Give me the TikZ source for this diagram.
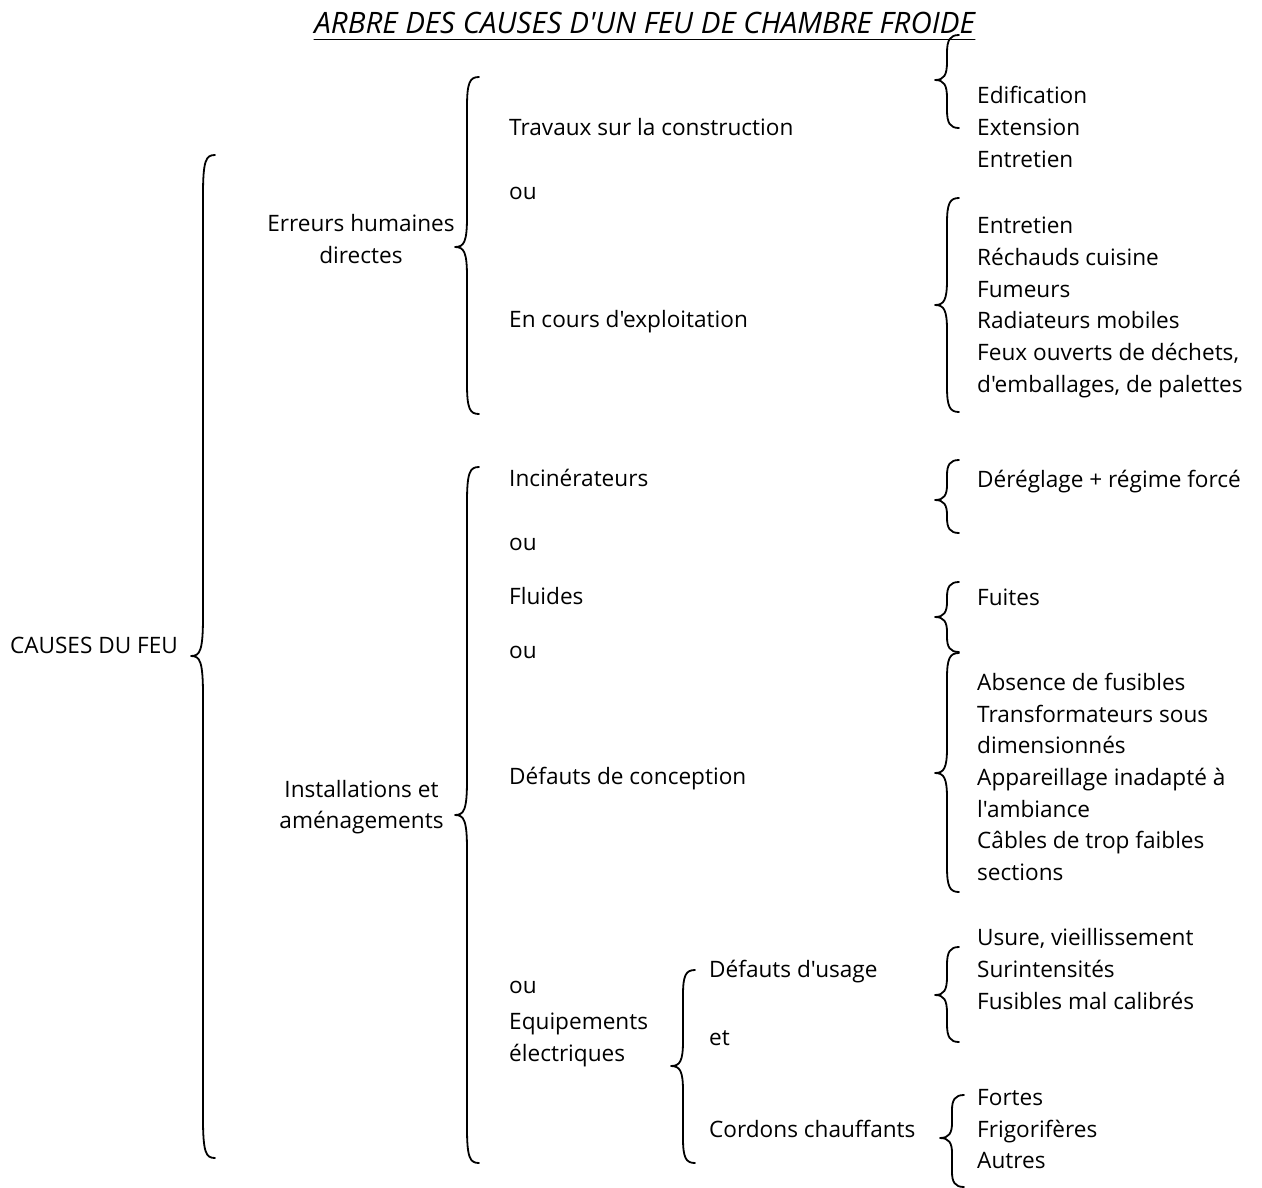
\documentclass[tikz,border=0pt]{standalone}
\usepackage{fontspec}
\newfontfamily\police{Open Sans}
\begin{document}
\begin{tikzpicture}[x=1pt, y=-1pt, font=\police\fontsize{22.6}{27}\selectfont, line join=round, line cap=round,
	txt/.style={anchor=base west, inner sep=0pt},
	ctxt/.style={anchor=base, inner sep=0pt},
	brace/.style={line width=1.8pt}]
	\useasboundingbox (0,0) rectangle (1262,1187);
	% accolade : epine, haut, pointe, bas, rayon
	\def\accolade#1#2#3#4#5{\draw[brace] (#1+12,#2) .. controls (#1+3,#2) and (#1,#2+5) .. (#1,#2+#5) -- (#1,#3-#5) .. controls (#1,#3-5) and (#1-3,#3) .. (#1-12,#3) .. controls (#1-3,#3) and (#1,#3+5) .. (#1,#3+#5) -- (#1,#4-#5) .. controls (#1,#4-5) and (#1+3,#4) .. (#1+12,#4);}
	\node[ctxt, font=\police\itshape\fontsize{29.5}{34}\selectfont] (titre) at (644.5,33) {ARBRE DES CAUSES D'UN FEU DE CHAMBRE FROIDE};
	\draw[line width=1.6pt] ([yshift=-6.5pt]titre.base west) -- ([yshift=-6.5pt]titre.base east);
	\node[anchor=base east, inner sep=0pt] (feu) at (178,653) {CAUSES DU FEU};
	\accolade{203}{155}{656}{1158}{40}
	\node[ctxt] (err1) at (361,231) {Erreurs humaines};
	\node[ctxt] (err2) at (361,263) {directes};
	\node[ctxt] (inst1) at (361.5,797) {Installations et};
	\node[ctxt] (inst2) at (361.5,828) {aménagements};
	\accolade{467}{77}{247}{414}{30}
	\accolade{467}{467}{815}{1163}{35}
	\node[txt] (travaux) at (509,135) {Travaux sur la construction};
	\node[txt] (ou1) at (509,199) {ou};
	\node[txt] (exploit) at (509,327) {En cours d'exploitation};
	\node[txt] (incin) at (509,486) {Incinérateurs};
	\node[txt] (ou2) at (509,550) {ou};
	\node[txt] (fluides) at (509,604) {Fluides};
	\node[txt] (ou3) at (509,658) {ou};
	\node[txt] (concep) at (509,784) {Défauts de conception};
	\node[txt] (ou4) at (509,993) {ou};
	\node[txt] (equip1) at (509,1029) {Equipements};
	\node[txt] (equip2) at (509,1061) {électriques};
	\accolade{683}{970}{1066}{1163}{25}
	\node[txt] (usage) at (709,977) {Défauts d'usage};
	\node[txt] (et) at (709,1045) {et};
	\node[txt] (cordons) at (709,1137) {Cordons chauffants};
	% dernier niveau
	\accolade{947}{35}{80}{128}{18}
	\foreach \t/\y [count=\i] in {Edification/103, Extension/135, Entretien/167}
		\node[txt] (cons\i) at (977,\y) {\t};
	\accolade{947}{198}{305}{412}{25}
	\foreach \t/\y [count=\i] in {Entretien/233, Réchauds cuisine/265, Fumeurs/297, Radiateurs mobiles/328, {Feux ouverts de déchets,}/360, {d'emballages, de palettes}/392}
		\node[txt] (expl\i) at (977,\y) {\t};
	\accolade{947}{460}{500}{533}{15}
	\node[txt] (dereg) at (977,487) {Déréglage + régime forcé};
	\accolade{947}{582}{617}{652}{15}
	\node[txt] (fuites) at (977,605) {Fuites};
	\accolade{947}{653}{773}{892}{25}
	\foreach \t/\y [count=\i] in {Absence de fusibles/690, Transformateurs sous/722, dimensionnés/753, Appareillage inadapté à/785, l'ambiance/817, Câbles de trop faibles/848, sections/880}
		\node[txt] (conc\i) at (977,\y) {\t};
	\accolade{947}{947}{995}{1042}{18}
	\foreach \t/\y [count=\i] in {{Usure, vieillissement}/945, Surintensités/977, Fusibles mal calibrés/1009}
		\node[txt] (us\i) at (977,\y) {\t};
	\accolade{952}{1095}{1138}{1187}{15}
	\foreach \t/\y [count=\i] in {Fortes/1105, Frigorifères/1137, Autres/1168}
		\node[txt] (cord\i) at (977,\y) {\t};
\end{tikzpicture}
\end{document}
